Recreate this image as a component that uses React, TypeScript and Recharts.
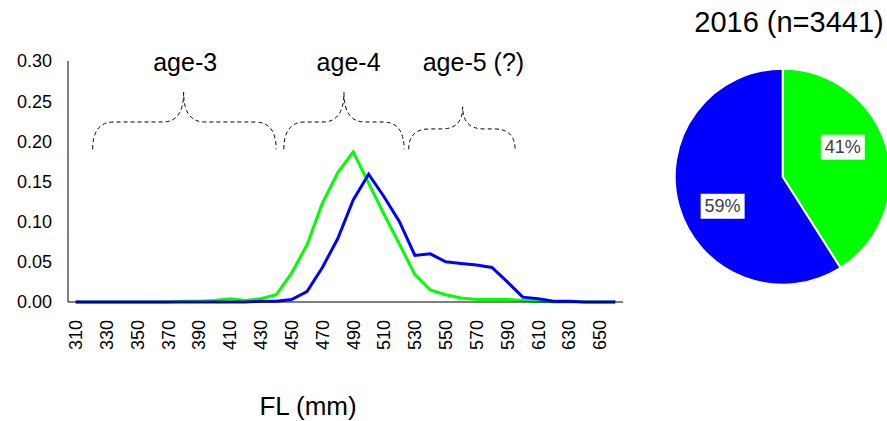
import React from "react"
import { LineChart, Line, XAxis, YAxis, ReferenceArea, ReferenceDot, PieChart, Pie, Cell } from "recharts"

const FONT = "'Liberation Sans', Arial, sans-serif"

// fork length classes (mm)
const lengths = [
  310, 320, 330, 340, 350, 360, 370, 380, 390, 400, 410, 420, 430, 440, 450, 460, 470, 480,
  490, 500, 510, 520, 530, 540, 550, 560, 570, 580, 590, 600, 610, 620, 630, 640, 650, 660,
]
// proportion per length class
const greenShare = [
  0, 0, 0, 0, 0, 0, 0, 0.001, 0.001, 0.002, 0.004, 0.002, 0.004, 0.009, 0.036, 0.071, 0.123, 0.161,
  0.187, 0.148, 0.109, 0.072, 0.034, 0.015, 0.009, 0.005, 0.003, 0.003, 0.003, 0.002, 0.001, 0, 0, 0, 0, 0,
]
const blueShare = [
  0, 0, 0, 0, 0, 0, 0, 0, 0, 0, 0, 0, 0.001, 0.001, 0.003, 0.013, 0.043, 0.079,
  0.127, 0.159, 0.131, 0.1, 0.058, 0.06, 0.05, 0.048, 0.046, 0.043, 0.025, 0.006, 0.004, 0.001, 0.001, 0, 0, 0,
]
const xTicks = [310, 330, 350, 370, 390, 410, 430, 450, 470, 490, 510, 530, 550, 570, 590, 610, 630, 650]
const yTicks = [0, 0.05, 0.1, 0.15, 0.2, 0.25, 0.3]

// age group braces
const ageLabels = ["age-3", "age-4", "age-5 (?)"]
const braceFrom = [321, 445, 526]
const braceTo = [440, 523, 595]
const braceTip = [380, 484, 561]
const braceTop = [0.261, 0.261, 0.243]
const braceBottom = 0.19
const ageLabelX = [381, 487, 568]
const ageLabelY = 0.288

// pie
const pieNames = ["green", "blue"]
const pieValues = [41, 59]
const pieColors = ["#00ff00", "#0000ff"]

const rows = lengths.map((fl, i) => ({ fl, green: greenShare[i], blue: blueShare[i] }))
const slices = pieNames.map((name, i) => ({ name, value: pieValues[i], color: pieColors[i] }))

const FlTick = ({ x, y, payload }: any) => (
  <text
    x={x}
    y={y + 16}
    transform={`rotate(-90, ${x}, ${y + 16})`}
    textAnchor="end"
    dy="0.35em"
    fontSize={18}
    fontFamily={FONT}
    fill="#000"
  >
    {payload.value}
  </text>
)

const makeBrace = (i: number) => (props: any) => {
  const { x, y, width, height } = props
  const tx = x + ((braceTip[i] - braceFrom[i]) / (braceTo[i] - braceFrom[i])) * width
  const ym = y + height * 0.52
  const r = 21
  const d = [
    `M ${x} ${y + height}`,
    `Q ${x} ${ym} ${x + r} ${ym}`,
    `L ${tx - r} ${ym}`,
    `Q ${tx} ${ym} ${tx} ${y}`,
    `Q ${tx} ${ym} ${tx + r} ${ym}`,
    `L ${x + width - r} ${ym}`,
    `Q ${x + width} ${ym} ${x + width} ${y + height}`,
  ].join(" ")
  return <path d={d} fill="none" stroke="#000" strokeWidth={1} strokeDasharray="4 3" />
}

const makeAgeLabel = (i: number) => (props: any) => (
  <text x={props.cx} y={props.cy} textAnchor="middle" fontSize={25} fontFamily={FONT} fill="#000">
    {ageLabels[i]}
  </text>
)

const RADIAN = Math.PI / 180

const renderSliceLabel = ({ cx, cy, midAngle, outerRadius, value }: any) => {
  const angle = (midAngle + 10) * RADIAN
  const r = outerRadius * 0.62
  const lx = cx + r * Math.cos(angle)
  const ly = cy - r * Math.sin(angle)
  return (
    <g>
      <rect x={lx - 22} y={ly - 12.5} width={44} height={25} fill="#fff" />
      <text x={lx} y={ly} textAnchor="middle" dominantBaseline="central" fontSize={18} fontFamily={FONT} fill="#404040">
        {`${value}%`}
      </text>
    </g>
  )
}

export default function App() {
  return (
    <div style={{ position: "absolute", left: 0, top: 0, width: 887, height: 421, background: "#fff", fontFamily: FONT }}>
      <div style={{ position: "absolute", left: 0, top: 0 }}>
        <LineChart width={640} height={421} data={rows} margin={{ top: 61, right: 17, bottom: 0, left: 0 }}>
          <XAxis
            dataKey="fl"
            type="number"
            domain={[305, 665]}
            ticks={xTicks}
            interval={0}
            tick={<FlTick />}
            tickLine={false}
            tickSize={0}
            axisLine={{ stroke: "#000" }}
            height={119}
          />
          <YAxis
            domain={[0, 0.3]}
            ticks={yTicks}
            width={68}
            tickLine={false}
            tickSize={0}
            tickMargin={16}
            axisLine={{ stroke: "#000" }}
            tick={{ fill: "#000", fontSize: 18, fontFamily: FONT }}
            tickFormatter={(v: number) => v.toFixed(2)}
          />
          {ageLabels.map((label, i) => (
            <ReferenceArea
              key={`brace-${label}`}
              x1={braceFrom[i]}
              x2={braceTo[i]}
              y1={braceBottom}
              y2={braceTop[i]}
              shape={makeBrace(i)}
            />
          ))}
          {ageLabels.map((label, i) => (
            <ReferenceDot key={`label-${label}`} x={ageLabelX[i]} y={ageLabelY} shape={makeAgeLabel(i)} />
          ))}
          <Line type="linear" dataKey="green" stroke="#00ff00" strokeWidth={3} dot={false} isAnimationActive={false} />
          <Line type="linear" dataKey="blue" stroke="#0000ff" strokeWidth={3} dot={false} isAnimationActive={false} />
        </LineChart>
      </div>
      <div style={{ position: "absolute", left: 660, top: 0 }}>
        <PieChart width={227} height={421} margin={{ top: 0, right: 0, bottom: 0, left: 0 }}>
          <Pie
            data={slices}
            dataKey="value"
            nameKey="name"
            cx={122.7}
            cy={176.7}
            outerRadius={108}
            startAngle={90}
            endAngle={-270}
            stroke="#fff"
            strokeWidth={2}
            label={renderSliceLabel}
            labelLine={false}
            isAnimationActive={false}
          >
            {slices.map((s, i) => (
              <Cell key={`cell-${i}`} fill={s.color} />
            ))}
          </Pie>
        </PieChart>
      </div>
      <svg width={887} height={421} style={{ position: "absolute", left: 0, top: 0, pointerEvents: "none" }}>
        <text x={789} y={31.7} textAnchor="middle" fontSize={29} fontFamily={FONT} fill="#000">
          2016 (n=3441)
        </text>
        <text x={308} y={415} textAnchor="middle" fontSize={26} fontFamily={FONT} fill="#000">
          FL (mm)
        </text>
      </svg>
    </div>
  )
}
